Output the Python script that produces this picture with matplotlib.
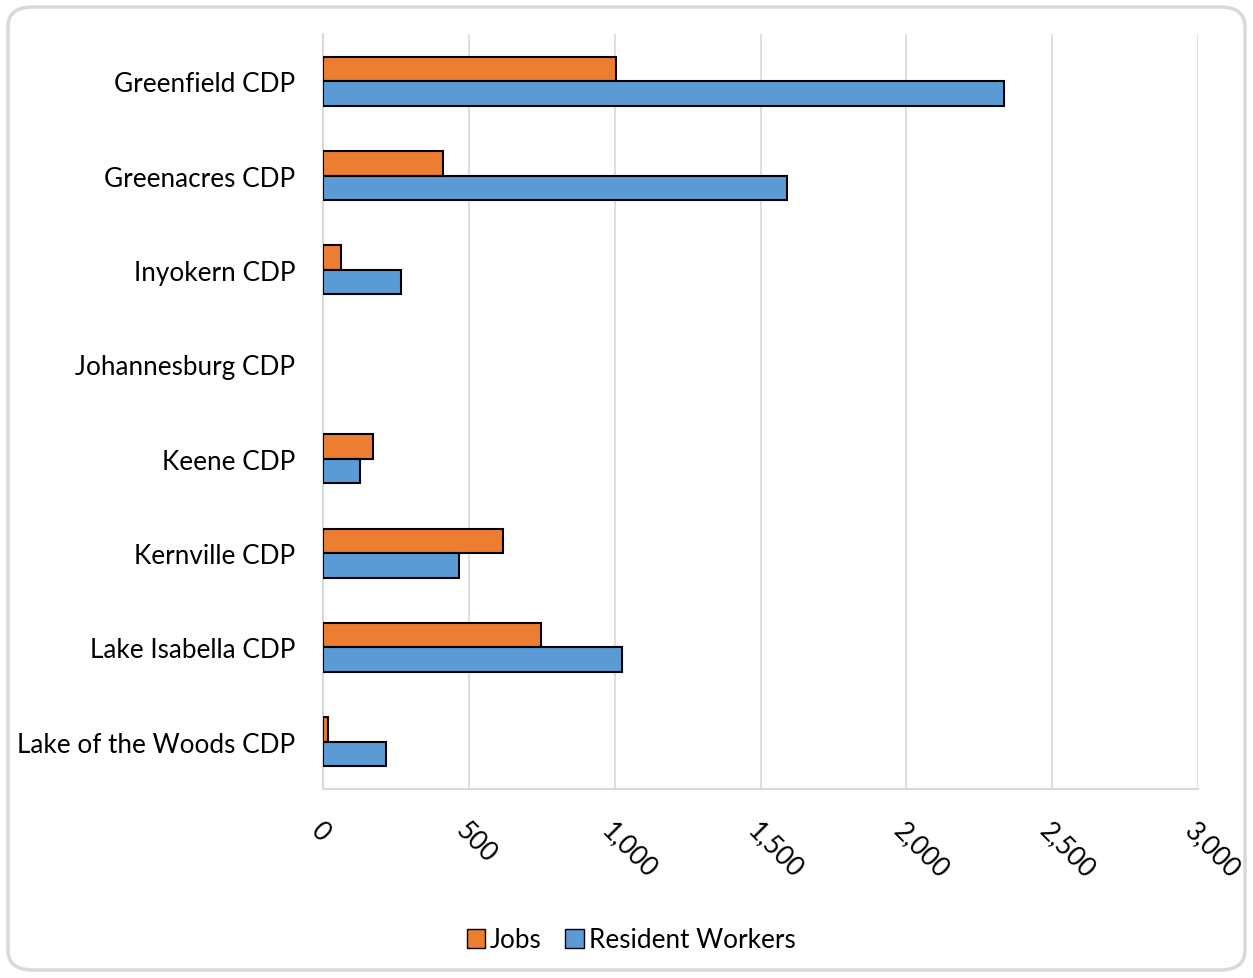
import matplotlib
matplotlib.use("Agg")
import matplotlib.pyplot as plt
from matplotlib.patches import FancyBboxPatch, Patch
import numpy as np

categories = ["Greenfield CDP", "Greenacres CDP", "Inyokern CDP", "Johannesburg CDP",
              "Keene CDP", "Kernville CDP", "Lake Isabella CDP", "Lake of the Woods CDP"]
jobs = [1005, 411, 62, 0, 171, 617, 747, 17]
resident_workers = [2335, 1591, 267, 0, 127, 466, 1025, 216]
xticks = [0, 500, 1000, 1500, 2000, 2500, 3000]
xtick_labels = ["0", "500", "1,000", "1,500", "2,000", "2,500", "3,000"]

plt.rcParams['font.family'] = ['Lato', 'DejaVu Sans']

W, H = 1253, 979
fig = plt.figure(figsize=(W / 100, H / 100), dpi=100)
fig.patch.set_facecolor("white")

# rounded outer border
border = FancyBboxPatch((8 / W, 8 / H), 1 - 16 / W, 1 - 16 / H,
                        boxstyle="round,pad=0,rounding_size=0.02",
                        transform=fig.transFigure, facecolor="none",
                        edgecolor="#d9d9d9", linewidth=2.5, zorder=10)
fig.patches.append(border)

ax = fig.add_axes([323 / W, 1 - 790 / H, (1198 - 323) / W, (790 - 35) / H])
ax.set_facecolor("none")

y = np.arange(len(categories))
h = 0.26
lw_j = [1.5 if v > 0 else 0 for v in jobs]
lw_r = [1.5 if v > 0 else 0 for v in resident_workers]
ax.barh(y - h / 2, jobs, height=h, color="#ed7d31", edgecolor="black", linewidth=lw_j,
        label="Jobs", zorder=3)
ax.barh(y + h / 2, resident_workers, height=h, color="#5b9bd5", edgecolor="black",
        linewidth=lw_r, label="Resident Workers", zorder=3)

fs = 18.8
ax.set_ylim(len(categories) - 0.5, -0.5)
ax.set_xlim(0, 3000)
ax.set_yticks(y)
ax.set_yticklabels(categories, fontsize=fs)
ax.set_xticks(xticks)
ax.set_xticklabels(xtick_labels, fontsize=fs, rotation=-45, ha="left", va="top",
                   rotation_mode="anchor")
ax.tick_params(axis="both", length=0)
ax.tick_params(axis="y", pad=20)
ax.tick_params(axis="x", pad=20)

ax.grid(axis="x", color="#d9d9d9", linewidth=1.2, zorder=0)
for s in ["top", "right"]:
    ax.spines[s].set_visible(False)
for s in ["left", "bottom"]:
    ax.spines[s].set_color("#d9d9d9")
    ax.spines[s].set_linewidth(1.5)

handles = [Patch(facecolor="#ed7d31", edgecolor="black", label="Jobs"),
           Patch(facecolor="#5b9bd5", edgecolor="black", label="Resident Workers")]
fig.legend(handles=handles, loc="center", bbox_to_anchor=(631 / W, 1 - 941 / H),
           ncol=2, frameon=False, fontsize=fs, handlelength=0.7, handleheight=0.7,
           handletextpad=0.2, columnspacing=0.9)

fig.savefig("out.png", dpi=100)
